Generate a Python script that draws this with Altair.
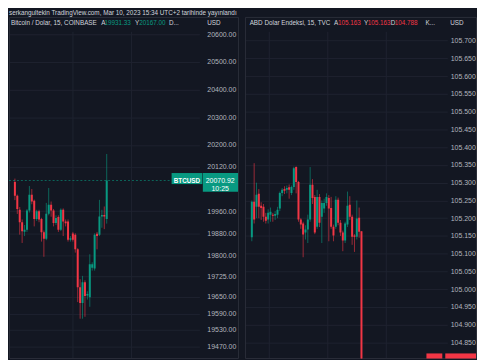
import altair as alt
import pandas as pd

BG = "#131722"
GRID = "#1e2230"
FRAME = "#2a2e39"
TXT = "#d1d4dc"
AXT = "#b2b5be"
UP = "#089981"
DOWN = "#f23645"
FONT = "Liberation Sans"

# ---- Bitcoin / Dolar, 15 min (COINBASE) ----
btc_open = [20066, 20016, 19965, 19920, 19886, 19893, 19962, 20019, 19998, 19932, 19960, 19932, 19884,
            19860, 19951, 19983, 19962, 19917, 19939, 19893, 19965, 19923, 19923, 19857, 19879, 19875,
            19822, 19685, 19628, 19703, 19655, 19649, 19755, 19753, 19878, 19875, 19941, 19946, 19931.33]
btc_high = [20078, 20020, 19975, 19930, 19910, 19968, 20051, 20040, 20002, 19965, 19965, 19936, 19890,
            19990, 20044, 19995, 19968, 19945, 19945, 19970, 19970, 19930, 19930, 19870, 19885, 19880,
            19826, 19714, 19726, 19710, 19670, 19804, 19775, 19880, 19885, 20001, 19965, 19977, 20167]
btc_low = [20000, 19950, 19875, 19845, 19870, 19885, 19955, 19985, 19905, 19925, 19920, 19850, 19795,
           19855, 19945, 19940, 19905, 19910, 19885, 19888, 19870, 19905, 19850, 19850, 19850, 19810,
           19631, 19571, 19571, 19578, 19640, 19614, 19745, 19745, 19822, 19870, 19900, 19895, 19915]
btc_close = [20016, 19968, 19920, 19887, 19893, 19962, 20019, 19995, 19932, 19960, 19930, 19884, 19860,
             19951, 19983, 19962, 19917, 19935, 19893, 19965, 19923, 19916, 19857, 19862, 19857, 19822,
             19685, 19628, 19703, 19653, 19660, 19768, 19768, 19875, 19870, 19941, 19946, 19941, 20070.92]
btc_ticks = [20600, 20500, 20400, 20300, 20200, 20120, 19960, 19880, 19800, 19725, 19650, 19590, 19530, 19470]
btc_time_grid = [23.7, 48.2]
btc_price = 20070.92
btc_tag_top = 20098
btc_tag_mid = 20058
btc_tag_bot = 20030

# ---- ABD Dolar Endeksi, 15 min (TVC) ----
dxy_open = [105.146, 105.246, 105.232, 105.269, 105.235, 105.232, 105.204, 105.196, 105.210, 105.210,
            105.207, 105.210, 105.227, 105.271, 105.282, 105.280, 105.287, 105.271, 105.288, 105.344,
            105.302, 105.196, 105.185, 105.160, 105.168, 105.196, 105.294, 105.260, 105.176, 105.260,
            105.204, 105.227, 105.243, 105.257, 105.229, 105.176, 105.176, 105.252, 105.187, 105.160,
            105.137, 105.182, 105.238, 105.204, 105.151, 105.148, 105.201, 105.163]
dxy_high = [105.250, 105.355, 105.300, 105.282, 105.245, 105.240, 105.215, 105.225, 105.230, 105.215,
            105.220, 105.232, 105.275, 105.285, 105.290, 105.292, 105.295, 105.292, 105.345, 105.346,
            105.305, 105.200, 105.190, 105.180, 105.210, 105.344, 105.310, 105.265, 105.280, 105.268,
            105.250, 105.255, 105.270, 105.265, 105.260, 105.182, 105.262, 105.258, 105.195, 105.165,
            105.190, 105.275, 105.262, 105.210, 105.155, 105.250, 105.230, 105.163]
dxy_low = [105.135, 105.185, 105.200, 105.200, 105.195, 105.190, 105.185, 105.185, 105.190, 105.190,
           105.195, 105.200, 105.220, 105.262, 105.268, 105.270, 105.255, 105.265, 105.280, 105.270,
           105.190, 105.170, 105.090, 105.140, 105.130, 105.190, 105.240, 105.155, 105.170, 105.175,
           105.130, 105.215, 105.235, 105.135, 105.170, 105.135, 105.170, 105.180, 105.150, 105.107,
           105.130, 105.175, 105.195, 105.125, 105.105, 105.140, 105.145, 104.788]
dxy_close = [105.246, 105.196, 105.266, 105.232, 105.229, 105.204, 105.193, 105.215, 105.218, 105.207,
             105.212, 105.224, 105.271, 105.280, 105.277, 105.285, 105.280, 105.288, 105.341, 105.302,
             105.196, 105.182, 105.154, 105.168, 105.196, 105.294, 105.257, 105.160, 105.260, 105.187,
             105.243, 105.243, 105.260, 105.227, 105.176, 105.151, 105.252, 105.187, 105.160, 105.137,
             105.185, 105.235, 105.204, 105.148, 105.148, 105.199, 105.162, 104.788]
dxy_ticks = [105.70, 105.65, 105.60, 105.55, 105.50, 105.45, 105.40, 105.35, 105.30, 105.25, 105.20,
             105.15, 105.10, 105.05, 105.00, 104.95, 104.90, 104.85]
dxy_time_grid = [7.28, 32.3, 57.4]
dxy_tag_top = 104.819
dxy_tag_bot = 104.8047

ONE = pd.DataFrame({"k": [0]})
H = 330
TOP = -21.5


def txt(s, x, y, color, size=6.4, align="left", weight="normal", baseline="middle"):
    return alt.Chart(ONE).mark_text(text=s, align=align, baseline=baseline, font=FONT, fontSize=size,
                                    color=color, fontWeight=weight).encode(x=alt.value(x), y=alt.value(y))


def frame(x0, x1):
    bounds = alt.Chart(ONE).mark_rect(opacity=0).encode(
        x=alt.value(x0), x2=alt.value(x1), y=alt.value(TOP), y2=alt.value(0))
    box = alt.Chart(ONE).mark_rect(fillOpacity=0, stroke=FRAME, strokeWidth=1).encode(
        x=alt.value(x0), x2=alt.value(x1), y=alt.value(-14), y2=alt.value(H))
    return [bounds, box]


def make_axis(ticks, fmt, pad, ext):
    return alt.Axis(orient="right", values=ticks, format=fmt, grid=True, gridColor=GRID, gridWidth=1,
                    ticks=False, tickSize=0, domain=False, labelColor=AXT, labelFont=FONT, labelFontSize=7,
                    labelPadding=pad, minExtent=ext, maxExtent=ext, labelOverlap=False, title=None)


def candles(o, h, l, c, xdom, xgrid, ydef):
    df = pd.DataFrame({"i": list(range(len(o))), "open": o, "high": h, "low": l, "close": c})
    base = alt.Chart(df).transform_calculate(dir="datum.close >= datum.open ? 'up' : 'down'")
    x = alt.X("i:Q", scale=alt.Scale(domain=xdom, nice=False, zero=False),
              axis=alt.Axis(values=xgrid, grid=True, gridColor=GRID, labels=False, ticks=False,
                            domain=False, title=None))
    color = alt.Color("dir:N", scale=alt.Scale(domain=["up", "down"], range=[UP, DOWN]), legend=None)
    wick = base.mark_rule(strokeWidth=1, opacity=0.6, clip=True).encode(
        x=x, y=ydef("low"), y2="high:Q", color=color)
    body = base.mark_bar(size=2, clip=True).encode(
        x=x, y=ydef("open"), y2="close:Q", color=color)
    return [wick, body]


# ---------- left panel ----------
btc_scale = alt.Scale(domain=[19426.9, 20610.8], nice=False, zero=False)
btc_axis = make_axis(btc_ticks, ".2f", 7.5, 40)


def ybtc(f):
    return alt.Y(f + ":Q", scale=btc_scale, axis=btc_axis)


btc_df = pd.DataFrame({"price": [btc_price], "top": [btc_tag_top], "mid": [btc_tag_mid], "bot": [btc_tag_bot]})
pb = alt.Chart(btc_df)
W1 = 192
left_layers = frame(0.5, 231.5) + candles(btc_open, btc_high, btc_low, btc_close, [-0.39, 74.3],
                                         btc_time_grid, ybtc) + [
    pb.mark_rule(strokeDash=[2, 2], color=UP, opacity=0.6).encode(y=ybtc("price"), x=alt.value(0), x2=alt.value(164)),
    pb.mark_rect(color=UP).encode(y=ybtc("top"), y2="mid:Q", x=alt.value(164), x2=alt.value(195)),
    pb.mark_rect(color=UP).encode(y=ybtc("top"), y2="bot:Q", x=alt.value(195.5), x2=alt.value(231)),
    pb.mark_text(text="BTCUSD", font=FONT, fontSize=6.4, color="#ffffff", fontWeight="bold").encode(
        y=ybtc("price"), x=alt.value(179.5)),
    pb.mark_text(text="20070.92", font=FONT, fontSize=7, color="#ffffff").encode(y=ybtc("price"), x=alt.value(213)),
    pb.mark_text(text="10:25", font=FONT, fontSize=7, color="#ffffff", dy=8.5).encode(y=ybtc("price"), x=alt.value(213)),
    txt("serkangultekin TradingView.com, Mar 10, 2023 15:34 UTC+2 tarihinde yayınlandı", 0, TOP, TXT,
        baseline="top"),
    txt("Bitcoin / Dolar, 15, COINBASE", 2, -8, TXT),
    txt("A", 93, -8, TXT),
    txt("19931.33", 96.3, -8, UP),
    txt("Y", 127, -8, TXT),
    txt("20167.00", 131.3, -8, UP),
    txt("D...", 161.3, -8, TXT),
    txt("USD", 200, -8, TXT),
]
left = alt.layer(*left_layers).properties(width=W1, height=H)

# ---------- right panel ----------
dxy_scale = alt.Scale(domain=[104.8047, 105.7265], nice=False, zero=False)
dxy_axis = make_axis(dxy_ticks, ".3f", 3, 30)


def ydxy(f):
    return alt.Y(f + ":Q", scale=dxy_scale, axis=dxy_axis)


dxy_df = pd.DataFrame({"top": [dxy_tag_top], "bot": [dxy_tag_bot]})
pd2 = alt.Chart(dxy_df)
W2 = 204
right_layers = frame(0.5, 233.5) + candles(dxy_open, dxy_high, dxy_low, dxy_close, [-0.81, 81.65],
                                          dxy_time_grid, ydxy) + [
    pd2.mark_rect(color=DOWN).encode(y=ydxy("top"), y2="bot:Q", x=alt.value(183), x2=alt.value(199)),
    pd2.mark_rect(color=DOWN).encode(y=ydxy("top"), y2="bot:Q", x=alt.value(202), x2=alt.value(233)),
    txt("ABD Dolar Endeksi, 15, TVC", 4.7, -8, TXT),
    txt("A", 89.7, -8, TXT),
    txt("105.163", 93.7, -8, DOWN),
    txt("Y", 120, -8, TXT),
    txt("105.163", 123.7, -8, DOWN),
    txt("D", 147, -8, TXT),
    txt("104.788", 151, -8, DOWN),
    txt("K...", 182, -8, TXT),
    txt("USD", 207, -8, TXT),
]
right = alt.layer(*right_layers).properties(width=W2, height=H)

chart = alt.hconcat(left, right, spacing=6).resolve_scale(x="independent", y="independent").properties(
    padding=0, background=BG).configure_view(strokeWidth=0)

chart.save("out.html", embed_options={"renderer": "svg", "actions": False})
